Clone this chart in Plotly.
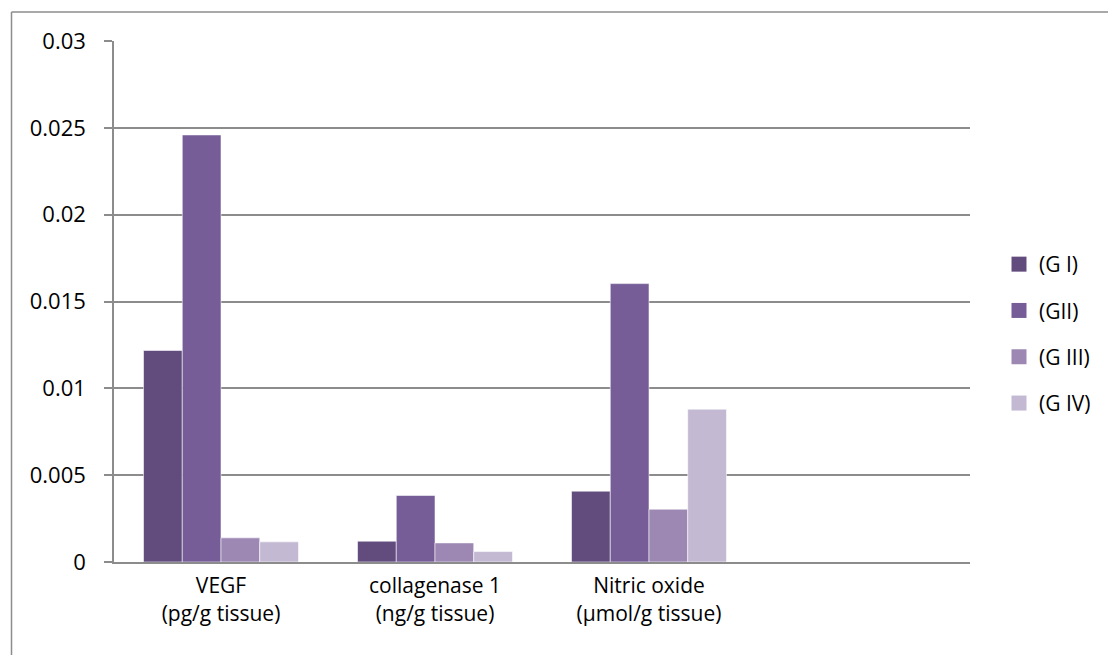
import plotly.graph_objects as go

# Tissue marker levels per group
categories = ["VEGF<br>(pg/g tissue)", "collagenase 1<br>(ng/g tissue)", "Nitric oxide<br>(µmol/g tissue)"]
groups = ["(G I)", "(GII)", "(G III)", "(G IV)"]
g1 = [0.01218, 0.0012, 0.00408]
g2 = [0.02459, 0.00383, 0.01603]
g3 = [0.00139, 0.0011, 0.00304]
g4 = [0.00116, 0.0006, 0.0088]
y_ticks = [0, 0.005, 0.01, 0.015, 0.02, 0.025, 0.03]
y_ticktext = ["0", "0.005", "0.01", "0.015", "0.02", "0.025", "0.03"]

colors = ["#624C7D", "#765D98", "#9C88B3", "#C3B9D2"]
series = [g1, g2, g3, g4]
FONT = "'Open Sans', Lato, 'Liberation Sans', sans-serif"

W, H = 1108, 655
L, R, T, B = 114, 138, 41, 93
pw, ph = W - L - R, H - T - B

fig = go.Figure()
xs = list(range(len(categories)))
for name, vals, col in zip(groups, series, colors):
    fig.add_trace(go.Bar(
        x=xs, y=vals, name=name, marker_color=col,
        marker_line=dict(color="rgba(255,255,255,0.55)", width=1),
        showlegend=False,
    ))
# legend entries with larger square swatches
for i, (name, col) in enumerate(zip(groups, colors)):
    fig.add_trace(go.Scatter(
        x=[None], y=[None], mode="markers", name=name, legendgroup=f"g{i}",
        marker=dict(symbol="square", size=15, color=col),
    ))

# outer frame (left and top edges visible)
def px_x(p):
    return (p - L) / pw

def px_y(p):
    return (H - B - p) / ph

frame = dict(color="#8c8c8c", width=1.5)
fig.add_shape(type="line", xref="paper", yref="paper",
              x0=px_x(11.5), x1=px_x(11.5), y0=px_y(700), y1=px_y(12), line=frame)
fig.add_shape(type="line", xref="paper", yref="paper",
              x0=px_x(11.5), x1=px_x(1150), y0=px_y(12), y1=px_y(12), line=frame)

fig.update_layout(
    width=W, height=H,
    margin=dict(l=L, r=R, t=T, b=B),
    paper_bgcolor="white", plot_bgcolor="white",
    barmode="group", bargap=0.276, bargroupgap=0,
    font=dict(family=FONT, size=21, color="black"),
    legend=dict(x=px_x(999), y=px_y(244), xanchor="left", yanchor="top",
                font=dict(size=21), tracegroupgap=16, itemwidth=30,
                bgcolor="rgba(0,0,0,0)"),
    xaxis=dict(range=[-0.5, 3.5], tickmode="array", tickvals=xs, ticktext=categories,
               showgrid=False, showline=True, linecolor="#8c8c8c", linewidth=2,
               ticks="outside", ticklen=4, tickcolor="rgba(0,0,0,0)",
               tickfont=dict(size=21), zeroline=False),
    yaxis=dict(range=[0, 0.03], tickmode="array", tickvals=y_ticks, ticktext=y_ticktext,
               showgrid=True, gridcolor="#8c8c8c", gridwidth=1.5,
               showline=True, linecolor="#8c8c8c", linewidth=1.5,
               ticks="outside", ticklen=8, tickcolor="#8c8c8c", tickwidth=1.5,
               ticklabelstandoff=14, tickfont=dict(size=22), zeroline=False),
)

fig.write_html("out.html")
